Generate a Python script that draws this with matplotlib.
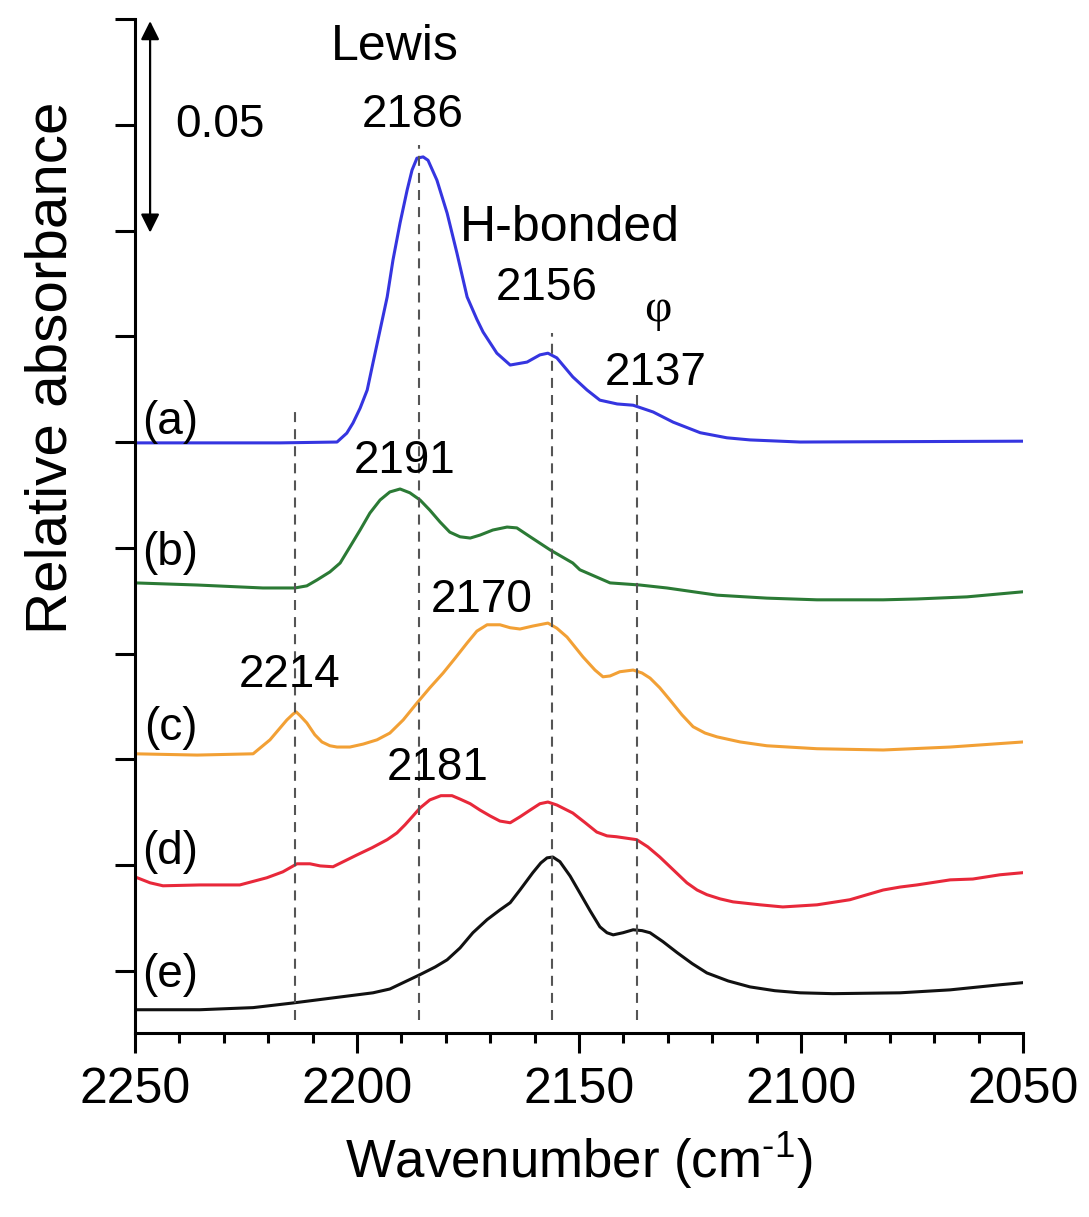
import matplotlib
matplotlib.use("Agg")
import matplotlib.pyplot as plt
from matplotlib.ticker import MultipleLocator

# ---- spectra (wavenumber in cm-1, offset relative absorbance) ----
wn_a = [2250, 2217.3, 2204.5, 2202.3, 2200.9, 2199.3, 2197.7, 2196.4, 2194.8,
        2193.2, 2191.9, 2190.3, 2188.7, 2187.6, 2186.5, 2185.1, 2184.0, 2182.0,
        2179.7, 2177.5, 2175.2, 2173.0, 2171.6, 2168.5, 2165.5, 2161.7, 2158.8,
        2157.0, 2155.0, 2151.4, 2148.2, 2145.3, 2141.4, 2137.8, 2133.3, 2128.8,
        2122.7, 2116.7, 2111.5, 2100.2, 2050]
abs_a = [0.1248, 0.1248, 0.1250, 0.1271, 0.1295, 0.1330, 0.1373, 0.1437, 0.1515,
         0.1593, 0.1680, 0.1768, 0.1846, 0.1893, 0.1921, 0.1924, 0.1916, 0.1869,
         0.1791, 0.1697, 0.1593, 0.1540, 0.1510, 0.1460, 0.1432, 0.1439, 0.1456,
         0.1460, 0.1449, 0.1404, 0.1373, 0.1349, 0.1340, 0.1337, 0.1321, 0.1297,
         0.1272, 0.1260, 0.1255, 0.1250, 0.1252]

wn_b = [2250, 2236.0, 2221.2, 2214.0, 2211.3, 2209.0, 2206.1, 2203.8, 2201.6,
        2199.3, 2197.1, 2194.8, 2192.6, 2190.3, 2188.1, 2185.8, 2183.6, 2181.3,
        2179.1, 2176.8, 2174.5, 2172.3, 2169.4, 2166.2, 2164.0, 2161.0, 2156.5,
        2151.4, 2149.8, 2143.0, 2136.3, 2130.2, 2118.9, 2107.7, 2096.4, 2081.5,
        2073.9, 2062.6, 2050]
abs_b = [0.0917, 0.0912, 0.0905, 0.0905, 0.0910, 0.0924, 0.0943, 0.0964, 0.1002,
         0.1042, 0.1082, 0.1113, 0.1132, 0.1139, 0.1130, 0.1113, 0.1089, 0.1061,
         0.1037, 0.1026, 0.1023, 0.1030, 0.1042, 0.1049, 0.1047, 0.1026, 0.0995,
         0.0964, 0.0948, 0.0917, 0.0912, 0.0905, 0.0888, 0.0881, 0.0877, 0.0877,
         0.0879, 0.0884, 0.0896]

wn_c = [2250, 2236.0, 2223.4, 2219.6, 2215.8, 2214.4, 2213.7, 2212.8, 2211.3,
        2209.5, 2207.9, 2206.1, 2204.5, 2201.6, 2198.6, 2195.5, 2192.6, 2189.6,
        2186.5, 2183.6, 2180.6, 2177.9, 2175.2, 2173.0, 2170.7, 2167.8, 2165.5,
        2163.3, 2160.4, 2157.0, 2155.0, 2152.7, 2149.1, 2146.4, 2144.6, 2143.0,
        2140.8, 2137.8, 2135.8, 2134.0, 2131.8, 2129.5, 2126.8, 2124.3, 2121.6,
        2118.9, 2113.7, 2107.7, 2096.4, 2081.5, 2066.4, 2050]
abs_c = [0.0513, 0.0510, 0.0513, 0.0546, 0.0593, 0.0607, 0.0612, 0.0603, 0.0586,
         0.0558, 0.0541, 0.0532, 0.0529, 0.0529, 0.0536, 0.0546, 0.0562, 0.0593,
         0.0633, 0.0669, 0.0704, 0.0739, 0.0775, 0.0803, 0.0818, 0.0818, 0.0811,
         0.0808, 0.0815, 0.0822, 0.0810, 0.0789, 0.0742, 0.0711, 0.0695, 0.0697,
         0.0707, 0.0711, 0.0704, 0.0692, 0.0669, 0.0640, 0.0605, 0.0577, 0.0562,
         0.0553, 0.0541, 0.0532, 0.0525, 0.0522, 0.0529, 0.0541]

wn_d = [2250, 2246.6, 2243.7, 2235.4, 2226.4, 2220.3, 2216.7, 2213.5, 2210.6,
        2208.3, 2205.4, 2202.7, 2200.0, 2196.6, 2193.2, 2191.0, 2189.2, 2187.4,
        2185.8, 2183.6, 2181.1, 2178.6, 2176.8, 2174.5, 2172.3, 2170.0, 2167.8,
        2165.5, 2163.3, 2161.0, 2158.8, 2157.0, 2155.0, 2151.4, 2148.6, 2146.0,
        2143.7, 2141.6, 2137.0, 2134.5, 2131.8, 2128.8, 2125.7, 2123.4, 2121.2,
        2118.2, 2115.3, 2109.2, 2104.1, 2096.4, 2089.0, 2085.1, 2081.5, 2077.7,
        2073.9, 2066.4, 2061.3, 2055.2, 2050]
abs_d = [0.0222, 0.0208, 0.0201, 0.0203, 0.0203, 0.0220, 0.0234, 0.0253, 0.0253,
         0.0248, 0.0246, 0.0260, 0.0274, 0.0291, 0.0310, 0.0326, 0.0345, 0.0366,
         0.0385, 0.0404, 0.0414, 0.0414, 0.0406, 0.0395, 0.0380, 0.0366, 0.0354,
         0.0350, 0.0364, 0.0380, 0.0395, 0.0399, 0.0392, 0.0373, 0.0350, 0.0328,
         0.0319, 0.0317, 0.0310, 0.0293, 0.0269, 0.0239, 0.0208, 0.0191, 0.0180,
         0.0170, 0.0163, 0.0156, 0.0151, 0.0156, 0.0168, 0.0180, 0.0191, 0.0198,
         0.0203, 0.0215, 0.0217, 0.0227, 0.0232]

wn_e = [2250, 2235.4, 2223.4, 2214.4, 2205.4, 2196.4, 2192.6, 2189.2, 2185.8,
        2182.4, 2179.7, 2176.8, 2173.9, 2170.7, 2167.8, 2165.5, 2163.3, 2160.4,
        2158.6, 2157.2, 2155.9, 2154.3, 2152.0, 2149.8, 2147.5, 2145.3, 2143.7,
        2142.3, 2140.1, 2137.8, 2135.8, 2134.0, 2131.1, 2127.9, 2124.5, 2121.2,
        2116.4, 2111.5, 2105.9, 2100.2, 2092.8, 2077.7, 2066.4, 2055.2, 2050]
abs_e = [-0.0092, -0.0092, -0.0087, -0.0076, -0.0064, -0.0052, -0.0043, -0.0026,
         -0.0009, 0.0009, 0.0026, 0.0054, 0.0090, 0.0121, 0.0144, 0.0161, 0.0191,
         0.0232, 0.0255, 0.0267, 0.0269, 0.0258, 0.0224, 0.0184, 0.0142, 0.0104,
         0.0090, 0.0085, 0.0090, 0.0097, 0.0095, 0.0090, 0.0069, 0.0043, 0.0017,
         -0.0005, -0.0024, -0.0038, -0.0047, -0.0052, -0.0054, -0.0052, -0.0045,
         -0.0033, -0.0028]

spectra = [
    (wn_a, abs_a, "#3535e0", "(a)", 0.1297),
    (wn_b, abs_b, "#2b7a35", "(b)", 0.0988),
    (wn_c, abs_c, "#f2a035", "(c)", 0.0574),
    (wn_d, abs_d, "#e8283a", "(d)", 0.0281),
    (wn_e, abs_e, "#111111", "(e)", -0.0010),
]

# band positions marked with dashed guides: (wavenumber, top of guide)
band_wn = [2214, 2186, 2156, 2137]
band_top = [0.1337, 0.1952, 0.1508, 0.1361]
guide_bottom = -0.0116

# peak annotations: (text, wavenumber, absorbance, size)
peak_labels = [
    ("Lewis", 2191.4, 0.2183, 36),
    ("2186", 2187.4, 0.2023, 33),
    ("H-bonded", 2152.0, 0.1756, 36),
    ("2156", 2157.2, 0.1614, 33),
    ("2137", 2132.7, 0.1413, 33),
    ("2191", 2189.2, 0.1205, 33),
    ("2170", 2172.0, 0.0877, 33),
    ("2214", 2215.1, 0.0699, 33),
    ("2181", 2181.8, 0.0480, 33),
]

scale_bar = 0.05
scale_top = 0.2245

W, H = 1089, 1217
fig = plt.figure(figsize=(W / 100, H / 100), dpi=100)
ax = fig.add_axes([135 / W, 1 - 1033 / H, (1023 - 135) / W, (1033 - 19) / H])

FONT = "Liberation Sans"

for wn, ab, col, tag, ty in spectra:
    ax.plot(wn, ab, color=col, lw=2.2, solid_joinstyle="round")
    ax.text(2242.0, ty, tag, fontsize=33, family=FONT, ha="center", va="center")

for x, top in zip(band_wn, band_top):
    ax.plot([x, x], [guide_bottom, top], color="#555555", lw=1.5,
            linestyle=(0, (4.8, 3.4)))

for txt, x, y, fs in peak_labels:
    ax.text(x, y, txt, fontsize=fs, family=FONT, ha="center", va="center")

ax.text(2132.2, 0.1562, "\u03c6", fontsize=34, family="Liberation Serif",
        ha="center", va="center")

# vertical scale bar
ax.annotate("", xy=(2246.6, scale_top), xytext=(2246.6, scale_top - scale_bar),
            arrowprops=dict(arrowstyle="<|-|>", color="black", lw=1.6,
                            mutation_scale=28, shrinkA=0, shrinkB=0))
ax.text(2230.9, 0.1999, "0.05", fontsize=33, family=FONT, ha="center", va="center")

ax.set_xlim(2250, 2050)
ax.set_ylim(-0.0147, 0.225)
ax.set_xticks([2250, 2200, 2150, 2100, 2050])
ax.xaxis.set_minor_locator(MultipleLocator(10))
ax.set_yticks([i * 0.025 for i in range(10)])
ax.set_yticklabels([])

for side in ("top", "right"):
    ax.spines[side].set_visible(False)
for side in ("left", "bottom"):
    ax.spines[side].set_linewidth(2.2)

ax.tick_params(axis="both", which="major", direction="out", length=14.4,
               width=2.2, labelsize=36, pad=10)
ax.tick_params(axis="x", which="minor", direction="out", length=7.2, width=2.2)
for lab in ax.get_xticklabels():
    lab.set_family(FONT)

fig.text(579 / W, 1 - 1160 / H, "Wavenumber (cm$^{\\mathregular{\u2010}\\mathregular{1}}$)",
         fontsize=38, family=FONT, ha="center", va="center")
fig.text(52 / W, 1 - 368 / H, "Relative absorbance", fontsize=42, family=FONT,
         ha="center", va="center", rotation=90)

fig.savefig("out.png", dpi=100)
